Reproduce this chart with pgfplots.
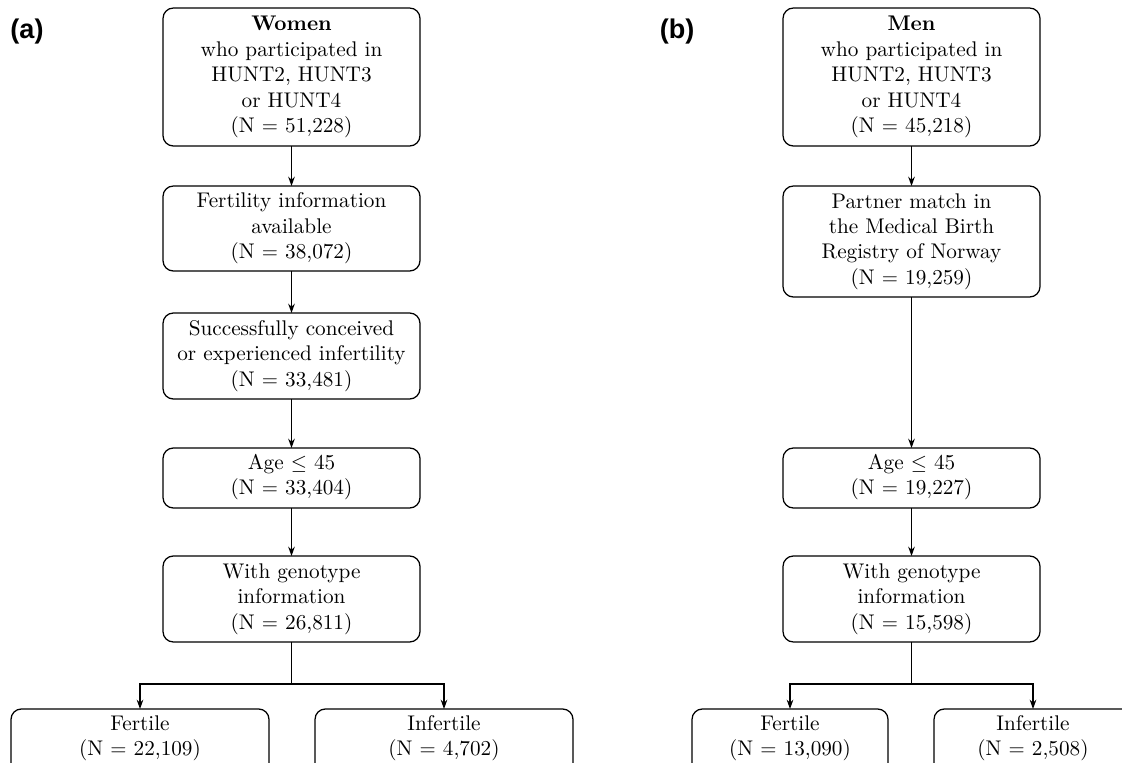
\documentclass[border=0pt]{standalone}
\usepackage{fontspec}
\newfontfamily\labfont{Liberation Sans}
\usepackage{pgfplots}
\pgfplotsset{compat=1.18}
\usetikzlibrary{arrows.meta}
\begin{document}
\begin{tikzpicture}
\useasboundingbox (0,0) rectangle (539.4pt,366.8pt);
\begin{axis}[
  at={(0,0)}, anchor=south west,
  width=539.4pt, height=366.8pt, scale only axis,
  xmin=0, xmax=1122, ymin=0, ymax=763, y dir=reverse,
  hide axis, clip=false,
  ar/.style={black, solid, no markers, line width=0.6pt, -{Stealth[length=4.5pt,width=3.2pt]}},
  ln/.style={black, solid, no markers, line width=0.6pt, -},
]
% ---------- connectors, panel (a)
\addplot[ar] coordinates {(291.5,146) (291.5,186)};
\addplot[ar] coordinates {(291.5,271) (291.5,313)};
\addplot[ar] coordinates {(291.5,399) (291.5,448)};
\addplot[ar] coordinates {(291.5,508) (291.5,556)};
\addplot[ln] coordinates {(291.5,642) (291.5,684)};
\addplot[ar] coordinates {(291.5,684) (140,684) (140,709)};
\addplot[ar] coordinates {(291.5,684) (444,684) (444,709)};
% ---------- connectors, panel (b)
\addplot[ar] coordinates {(911.5,146) (911.5,186)};
\addplot[ar] coordinates {(911.5,297) (911.5,448)};
\addplot[ar] coordinates {(911.5,508) (911.5,556)};
\addplot[ln] coordinates {(911.5,642) (911.5,684)};
\addplot[ar] coordinates {(911.5,684) (790,684) (790,709)};
\addplot[ar] coordinates {(911.5,684) (1033,684) (1033,709)};

\tikzset{bx/.style={draw=black, line width=0.6pt, rounded corners=5pt},
         tx/.style={align=center, inner sep=0pt, font=\fontsize{10.2}{12.2}\selectfont, text=black}}
% ---------- boxes (a)
\draw[bx] (axis cs:163,8) rectangle (axis cs:420,146);
\node[tx] at (axis cs:291.5,77) {\textbf{Women}\\who participated in\\HUNT2, HUNT3\\or HUNT4\\(N $=$ 51,228)};
\draw[bx] (axis cs:163,186) rectangle (axis cs:420,271);
\node[tx] at (axis cs:291.5,228.5) {Fertility information\\available\\(N $=$ 38,072)};
\draw[bx] (axis cs:163,313) rectangle (axis cs:420,399);
\node[tx] at (axis cs:291.5,356) {Successfully conceived\\or experienced infertility\\(N $=$ 33,481)};
\draw[bx] (axis cs:163,448) rectangle (axis cs:420,508);
\node[tx] at (axis cs:291.5,477) {Age $\leq$ 45\\(N $=$ 33,404)};
\draw[bx] (axis cs:163,556) rectangle (axis cs:420,642);
\node[tx] at (axis cs:291.5,599) {With genotype\\information\\(N $=$ 26,811)};
\draw[bx] (axis cs:11,709) rectangle (axis cs:269,800);
\node[tx] at (axis cs:140,738) {Fertile\\(N $=$ 22,109)};
\draw[bx] (axis cs:315,709) rectangle (axis cs:573,800);
\node[tx] at (axis cs:444,738) {Infertile\\(N $=$ 4,702)};
% ---------- boxes (b)
\draw[bx] (axis cs:783,8) rectangle (axis cs:1040,146);
\node[tx] at (axis cs:911.5,77) {\textbf{Men}\\who participated in\\HUNT2, HUNT3\\or HUNT4\\(N $=$ 45,218)};
\draw[bx] (axis cs:783,186) rectangle (axis cs:1040,297);
\node[tx] at (axis cs:911.5,241.5) {Partner match in\\the Medical Birth\\Registry of Norway\\(N $=$ 19,259)};
\draw[bx] (axis cs:783,448) rectangle (axis cs:1040,508);
\node[tx] at (axis cs:911.5,477) {Age $\leq$ 45\\(N $=$ 19,227)};
\draw[bx] (axis cs:783,556) rectangle (axis cs:1040,642);
\node[tx] at (axis cs:911.5,599) {With genotype\\information\\(N $=$ 15,598)};
\draw[bx] (axis cs:692,709) rectangle (axis cs:888,800);
\node[tx] at (axis cs:790,738) {Fertile\\(N $=$ 13,090)};
\draw[bx] (axis cs:934,709) rectangle (axis cs:1132,800);
\node[tx] at (axis cs:1033,738) {Infertile\\(N $=$ 2,508)};
% ---------- panel labels
\node[font=\labfont\bfseries\fontsize{13}{15}\selectfont, inner sep=0pt] at (axis cs:27,31) {(a)};
\node[font=\labfont\bfseries\fontsize{13}{15}\selectfont, inner sep=0pt] at (axis cs:677,31) {(b)};
\end{axis}
\end{tikzpicture}
\end{document}
